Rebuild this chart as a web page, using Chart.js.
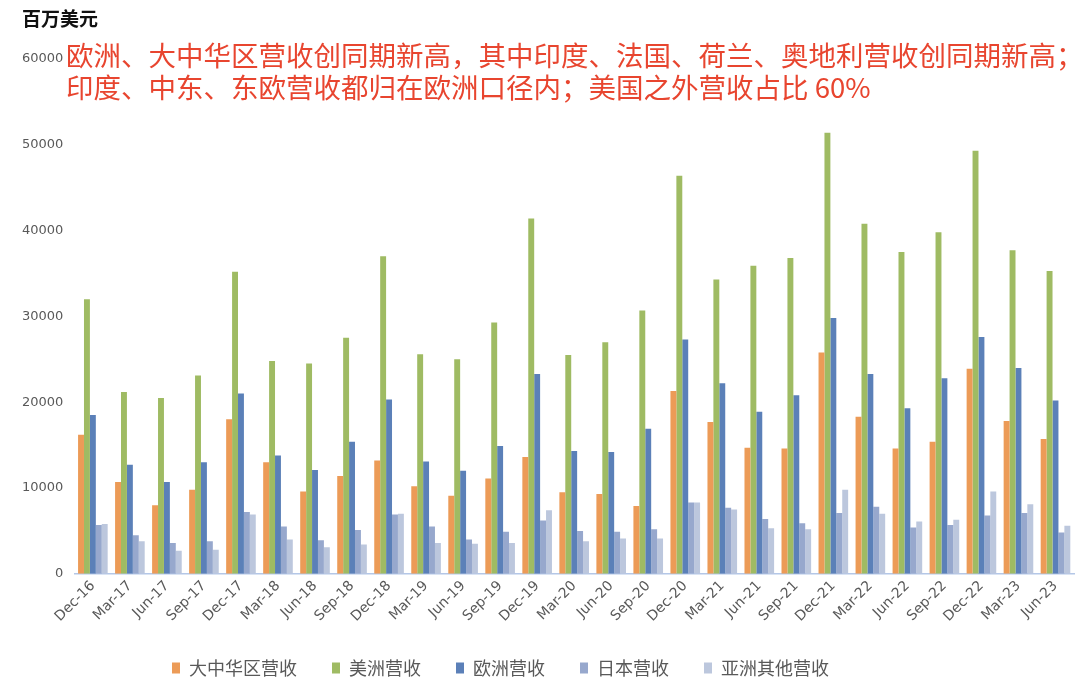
<!DOCTYPE html>
<html>
<head>
<meta charset="utf-8">
<script src="https://cdn.jsdelivr.net/npm/chart.js@4"></script>
<style>
  html, body { margin: 0; padding: 0; background: #fff; }
  #wrap { position: relative; width: 1080px; height: 692px; }
  #unit { position: absolute; left: 22px; top: 4px; font: 600 19px "Noto Sans CJK SC", sans-serif; color: #111; }
  #note { position: absolute; left: 66px; top: 38px; font: 27.5px/32px "Noto Sans CJK SC", sans-serif; color: #e8452f; white-space: nowrap; }
</style>
</head>
<body>
<div id="wrap">
  <canvas id="c" width="1080" height="692"></canvas>
  <div id="unit">百万美元</div>
  <div id="note">欧洲、大中华区营收创同期新高，其中印度、法国、荷兰、奥地利营收创同期新高；<br>印度、中东、东欧营收都归在欧洲口径内；美国之外营收占比 60%</div>
</div>
<script>
const quarters = ['Dec-16','Mar-17','Jun-17','Sep-17','Dec-17','Mar-18','Jun-18','Sep-18','Dec-18','Mar-19',
  'Jun-19','Sep-19','Dec-19','Mar-20','Jun-20','Sep-20','Dec-20','Mar-21','Jun-21','Sep-21',
  'Dec-21','Mar-22','Jun-22','Sep-22','Dec-22','Mar-23','Jun-23']

const greaterChina = [16200,10700,8000,9800,18000,13000,9600,11400,13200,10200,
  9100,11100,13600,9500,9300,7900,21300,17700,14700,14600,
  25800,18300,14600,15400,23900,17800,15700]
const americas = [32000,21200,20500,23100,35200,24800,24500,27500,37000,25600,
  25000,29300,41400,25500,27000,30700,46400,34300,35900,36800,
  51400,40800,37500,39800,49300,37700,35300]
const europe = [18500,12700,10700,13000,21000,13800,12100,15400,20300,13100,
  12000,14900,23300,14300,14200,16900,27300,22200,18900,20800,
  29800,23300,19300,22800,27600,24000,20200]
const japan = [5700,4500,3600,3800,7200,5500,3900,5100,6900,5500,
  4000,4900,6200,5000,4900,5200,8300,7700,6400,5900,
  7100,7800,5400,5700,6800,7100,4800]
const restAsia = [5800,3800,2700,2800,6900,4000,3100,3400,7000,3600,
  3500,3600,7400,3800,4100,4100,8300,7500,5300,5200,
  9800,7000,6100,6300,9600,8100,5600]

const yTicks = [0,10000,20000,30000,40000,50000,60000]

const series = [
  { label: '大中华区营收', data: greaterChina, color: '#ec9b57' },
  { label: '美洲营收', data: americas, color: '#9fbb63' },
  { label: '欧洲营收', data: europe, color: '#5b80b8' },
  { label: '日本营收', data: japan, color: '#97a8cd' },
  { label: '亚洲其他营收', data: restAsia, color: '#bcc7dd' }
]

// legend in the original sits left of centre and a bit higher
const LEGEND_SHIFT_X = -42
const LEGEND_SHIFT_Y = -5

new Chart(document.getElementById('c'), {
  type: 'bar',
  data: {
    labels: quarters,
    datasets: series.map(s => ({
      label: s.label,
      data: s.data,
      backgroundColor: s.color,
      borderWidth: 0,
      barPercentage: 1.0,
      categoryPercentage: 0.8
    }))
  },
  options: {
    responsive: false,
    animation: false,
    layout: { padding: { top: 59, left: 11, right: 6, bottom: 0 } },
    plugins: {
      title: { display: false },
      tooltip: { enabled: false },
      legend: {
        position: 'bottom',
        labels: {
          boxWidth: 8,
          boxHeight: 11,
          padding: 35,
          color: '#595959',
          font: { family: '"Noto Sans CJK SC", sans-serif', size: 18 }
        }
      }
    },
    scales: {
      x: {
        grid: { display: false, drawTicks: false },
        border: { display: true, color: '#b4c7e7', width: 1.5 },
        ticks: {
          color: '#595959',
          font: { family: '"DejaVu Sans", sans-serif', size: 14 },
          minRotation: 45,
          maxRotation: 45,
          autoSkip: false,
          padding: 4
        }
      },
      y: {
        min: 0,
        max: 60000,
        afterBuildTicks: axis => { axis.ticks = yTicks.map(v => ({ value: v })) },
        grid: { display: false, drawTicks: false },
        border: { display: false },
        ticks: {
          color: '#595959',
          font: { family: '"DejaVu Sans", sans-serif', size: 13 },
          padding: 11,
          callback: v => String(v)
        }
      }
    }
  },
  plugins: [{
    id: 'legendNudge',
    afterLayout: chart => {
      const lg = chart.legend
      lg.left += LEGEND_SHIFT_X
      lg.right += LEGEND_SHIFT_X
      lg.top += LEGEND_SHIFT_Y
      lg.bottom += LEGEND_SHIFT_Y
    }
  }]
})
</script>
</body>
</html>
